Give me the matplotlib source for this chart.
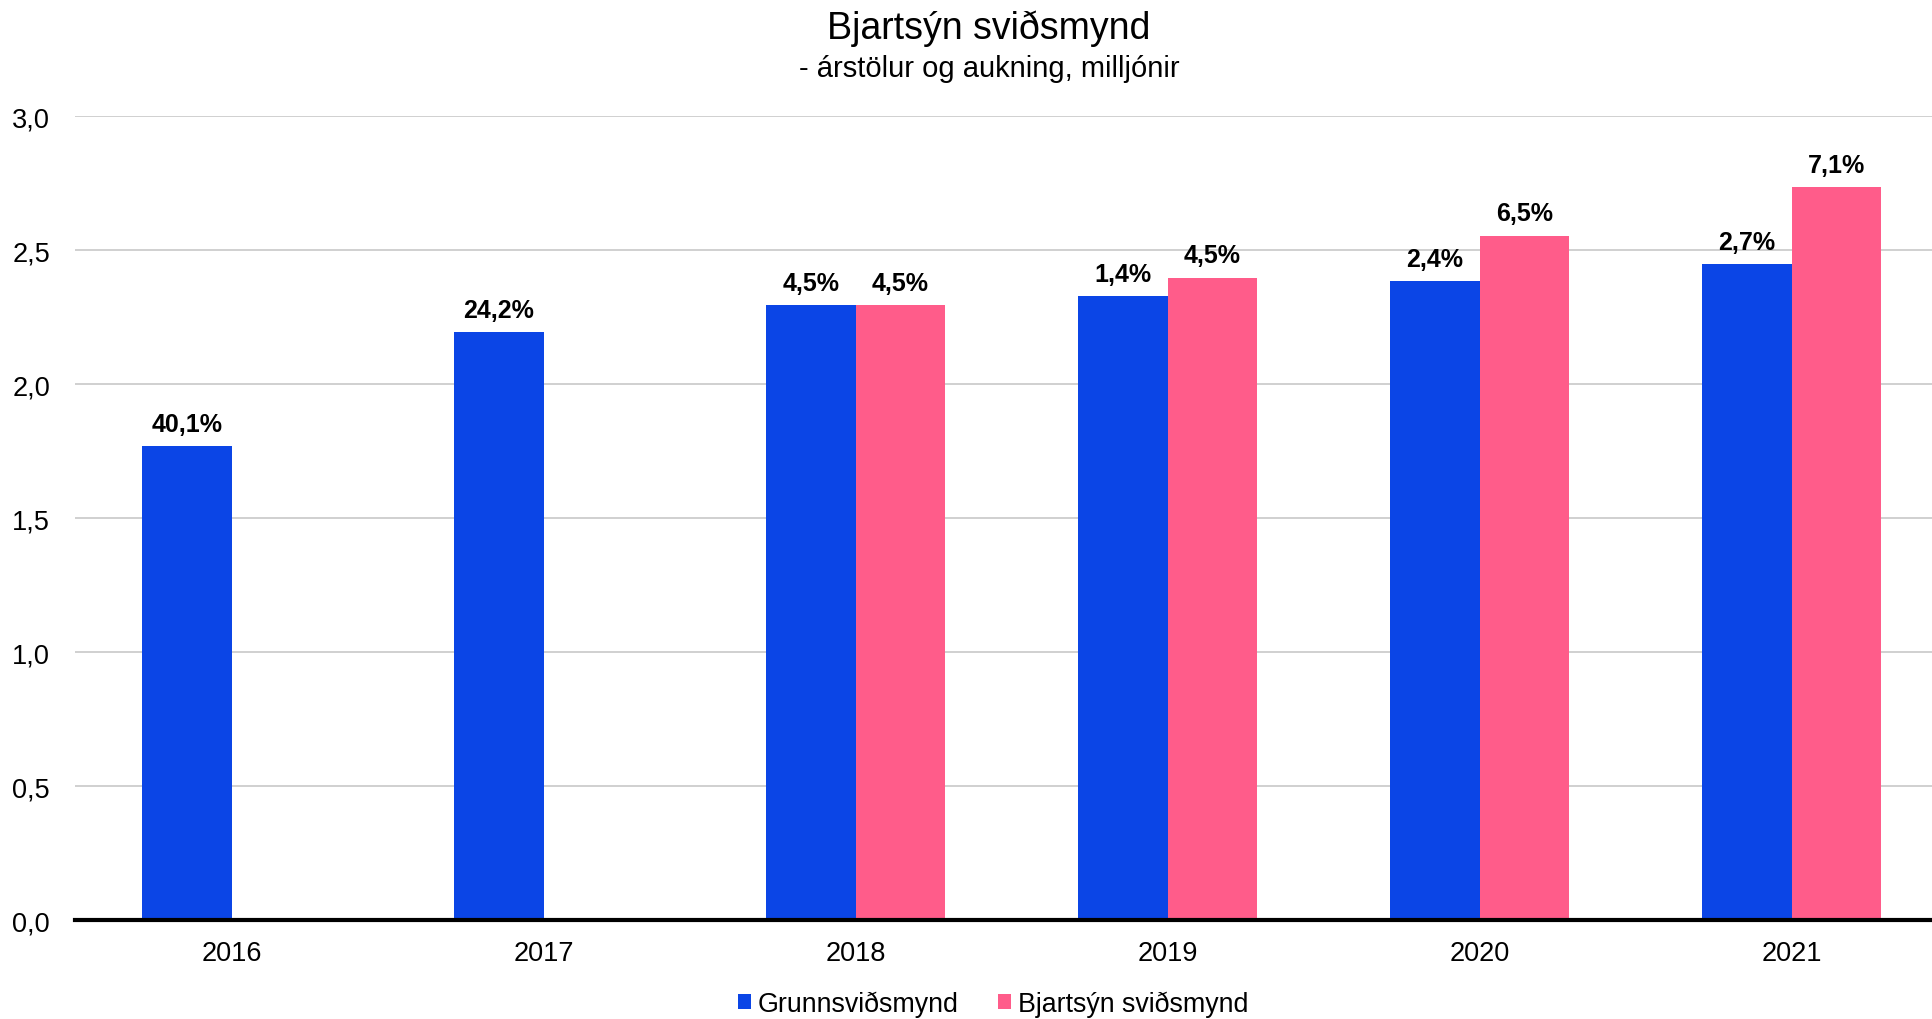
import numpy as np
import matplotlib
matplotlib.use("Agg")
import matplotlib.pyplot as plt

plt.rcParams['font.family'] = ['Liberation Sans', 'DejaVu Sans']

years = ["2016", "2017", "2018", "2019", "2020", "2021"]
grunn = [1.768, 2.195, 2.295, 2.328, 2.385, 2.449]
bjart = [None, None, 2.295, 2.398, 2.555, 2.735]
grunn_labels = ["40,1%", "24,2%", "4,5%", "1,4%", "2,4%", "2,7%"]
bjart_labels = [None, None, "4,5%", "4,5%", "6,5%", "7,1%"]
yticks = [0.0, 0.5, 1.0, 1.5, 2.0, 2.5, 3.0]

blue = "#0b45e6"
pink = "#ff5c8a"

fig = plt.figure(figsize=(19.32, 10.2), dpi=100)
ax = fig.add_axes([0.0388, 0.097, 0.9612, 0.788])

x = np.arange(len(years))
w = 0.288

ax.bar(x - w / 2, grunn, width=w, color=blue, label="Grunnsviðsmynd", zorder=3)
bx = [xi for xi, v in zip(x, bjart) if v is not None]
bv = [v for v in bjart if v is not None]
ax.bar(np.array(bx) + w / 2, bv, width=w, color=pink, label="Bjartsýn sviðsmynd", zorder=3)

for xi, v, lab in zip(x, grunn, grunn_labels):
    ax.annotate(lab, (xi - w / 2, v), xytext=(0, 11), textcoords="offset points",
                ha="center", va="baseline", fontsize=18, fontweight="bold")
for xi, v, lab in zip(x, bjart, bjart_labels):
    if v is None:
        continue
    ax.annotate(lab, (xi + w / 2, v), xytext=(0, 11), textcoords="offset points",
                ha="center", va="baseline", fontsize=18, fontweight="bold")

ax.set_xlim(-0.502, 5.45)
ax.set_ylim(0, 3.0)
ax.set_yticks(yticks)
ax.set_yticklabels([f"{t:.1f}".replace(".", ",") for t in yticks], fontsize=19.5)
ax.set_xticks(x)
ax.set_xticklabels(years, fontsize=19.5)
ax.tick_params(axis="both", length=0)
ax.tick_params(axis="y", pad=18)
ax.tick_params(axis="x", pad=14)

ax.grid(axis="y", color="#d0d0d0", linewidth=1.4, zorder=0)
for s in ["top", "right", "left"]:
    ax.spines[s].set_visible(False)
ax.spines["bottom"].set_color("black")
ax.spines["bottom"].set_linewidth(3)
ax.spines["bottom"].set_zorder(4)

fig.text(0.512, 0.972, "Bjartsýn sviðsmynd", ha="center", va="center", fontsize=27)
fig.text(0.512, 0.932, "- árstölur og aukning, milljónir", ha="center", va="center", fontsize=21)

fig.legend(loc="center", bbox_to_anchor=(0.514, 0.015), ncol=2, frameon=False,
           fontsize=19.3, handlelength=0.5, handleheight=0.5, handletextpad=0.25,
           columnspacing=1.45)

fig.savefig("out.png", dpi=100)
